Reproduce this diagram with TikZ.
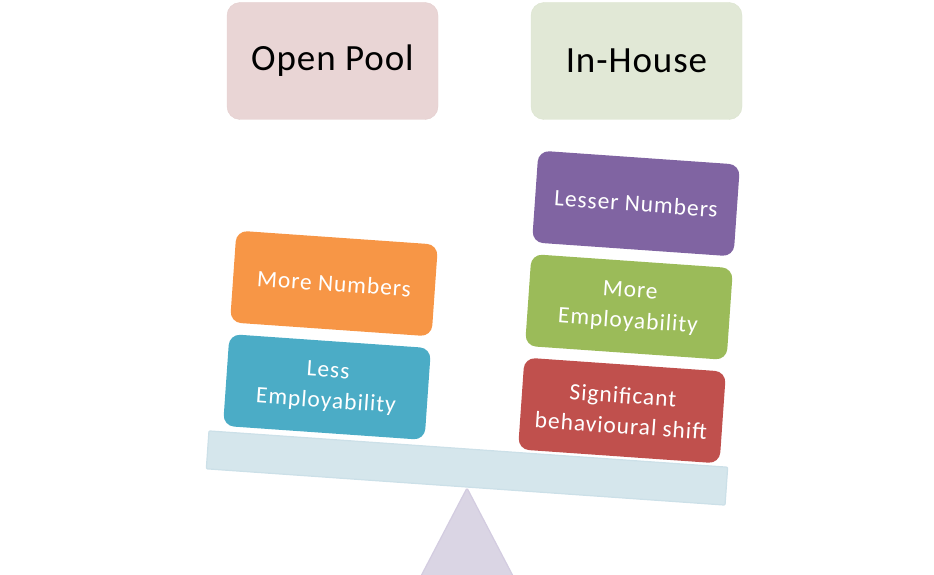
\documentclass[tikz,border=0pt]{standalone}
\usepackage{fontspec}
\setmainfont{Carlito}
\definecolor{poolfill}{RGB}{233,213,213}
\definecolor{poolline}{RGB}{228,206,206}
\definecolor{housefill}{RGB}{225,232,214}
\definecolor{houseline}{RGB}{219,228,207}
\definecolor{ofOrange}{RGB}{247,150,70}
\definecolor{ofBlue}{RGB}{75,172,198}
\definecolor{ofPurple}{RGB}{128,100,162}
\definecolor{ofGreen}{RGB}{155,187,89}
\definecolor{ofRed}{RGB}{192,80,77}
\definecolor{beamfill}{RGB}{213,230,236}
\definecolor{beamline}{RGB}{204,224,232}
\definecolor{trifill}{RGB}{218,213,228}
\definecolor{triline}{RGB}{211,204,224}
\tikzset{
  headbox/.style={rounded corners=13pt, minimum width=211pt, minimum height=117pt,
    inner sep=0pt, font=\fontsize{37}{40}\selectfont\addfontfeature{LetterSpace=2.5}, text=black},
  itembox/.style={rounded corners=11pt, minimum width=202pt, minimum height=92pt,
    inner sep=0pt, rotate=-4, align=center, text=white,
    font=\fontsize{23.5}{30.5}\selectfont\addfontfeature{LetterSpace=4}},
}
\begin{document}
\begin{tikzpicture}[x=1pt,y=-1pt]
\useasboundingbox (0,0) rectangle (934,575);
% fulcrum
\coordinate (apex) at (467,488);
\coordinate (tbl) at (421,576);
\coordinate (tbr) at (513,576);
\draw[fill=trifill, draw=triline, line width=1.2pt, rounded corners=1.5pt] (apex) -- (tbl) -- (tbr) -- cycle;
% beam
\node[draw=beamline, fill=beamfill, line width=1.2pt, rotate=-4, minimum width=520pt,
  minimum height=38pt, inner sep=0pt, rounded corners=1pt] (beam) at (467,468) {};
% headers
\node[headbox, fill=poolfill, draw=poolline] (pool) at (332.5,61) {Open Pool};
\node[headbox, fill=housefill, draw=houseline] (house) at (636.5,61) {In-House};
% left stack
\node[itembox, fill=ofOrange] (morenum) at (334,283.5) {More Numbers};
\node[itembox, fill=ofBlue] (lessemp) at (327,387) {Less\\Employability};
% right stack
\node[itembox, fill=ofPurple] (lessernum) at (636,203.5) {Lesser Numbers};
\node[itembox, fill=ofGreen] (moreemp) at (629,307) {More\\Employability};
\node[itembox, fill=ofRed] (shift) at (622,410.5) {Significant\\behavioural shift};
\end{tikzpicture}
\end{document}
